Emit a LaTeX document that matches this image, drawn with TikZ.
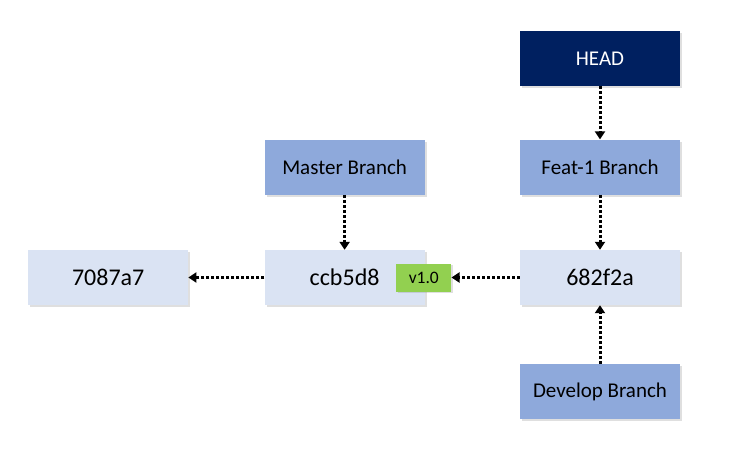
\documentclass[tikz,border=0pt]{standalone}
\usepackage{fontspec}
\setmainfont{Carlito}
\usetikzlibrary{arrows.meta,positioning,shadows}

\definecolor{headblue}{HTML}{002060}
\definecolor{branchblue}{HTML}{8EA9DB}
\definecolor{commitblue}{HTML}{DAE3F3}
\definecolor{taggreen}{HTML}{92D050}

\begin{document}
\begin{tikzpicture}[>={Triangle[width=10pt,length=8pt]},
  box/.style={minimum width=160pt,minimum height=55pt,inner sep=0pt,
    drop shadow={shadow xshift=2pt,shadow yshift=-2pt,opacity=0.25}},
  commit/.style={box,fill=commitblue,font=\fontsize{24}{28}\selectfont},
  branch/.style={box,fill=branchblue,font=\fontsize{21}{25}\selectfont},
  headbox/.style={branch,fill=headblue,text=white},
  tag/.style={fill=taggreen,minimum width=55pt,minimum height=28pt,inner sep=0pt,
    font=\fontsize{17.5}{20}\selectfont,
    drop shadow={shadow xshift=1.5pt,shadow yshift=-1.5pt,opacity=0.25}},
  ptr/.style={->,line width=3pt,dash pattern=on 3pt off 2pt}]

\useasboundingbox[fill=white] (0pt,0pt) rectangle (729pt,-461pt);

\node[commit]   (c682)   at (600pt,-277.5pt)     {682f2a};
\node[branch]   (feat)   [above=55pt of c682]    {Feat-1 Branch};
\node[headbox]  (head)   [above=53pt of feat]    {HEAD};
\node[branch]   (devel)  [below=59pt of c682]    {Develop Branch};
\node[commit]   (ccb)    [left=95pt of c682]     {ccb5d8};
\node[branch]   (master) [above=55pt of ccb]     {Master Branch};
\node[commit]   (c708)   [left=76pt of ccb]      {7087a7};
\node[tag]      (v1)     at ([xshift=-1pt]ccb.east) {v1.0};

\draw[ptr] (head)   -- (feat);
\draw[ptr] (feat)   -- (c682);
\draw[ptr] (devel)  -- (c682);
\draw[ptr] (master) -- (ccb);
\draw[ptr] (c682)   -- (v1);
\draw[ptr] (ccb)    -- (c708);

\end{tikzpicture}
\end{document}
